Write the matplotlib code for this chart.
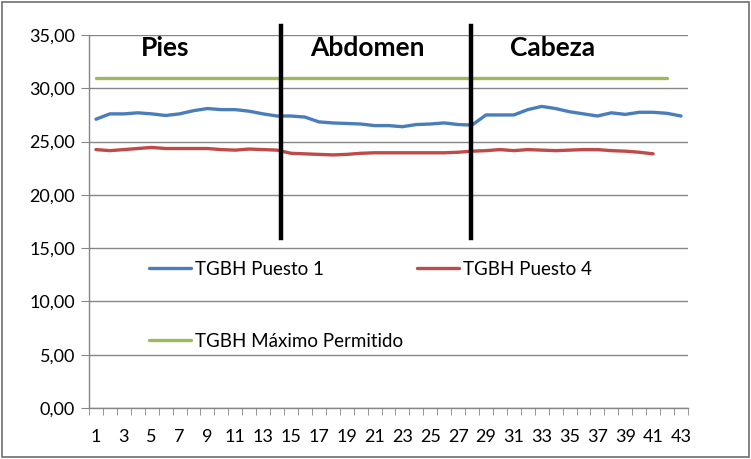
import numpy as np
import matplotlib
matplotlib.use('Agg')
import matplotlib.pyplot as plt
from matplotlib.ticker import FuncFormatter, FixedLocator
from matplotlib.patches import Rectangle

plt.rcParams['font.family'] = ['Lato', 'DejaVu Sans']

# ---- datos ----
puesto1 = [27.1, 27.6, 27.6, 27.7, 27.6, 27.45, 27.6, 27.9, 28.1, 28.0,
           28.0, 27.85, 27.6, 27.4, 27.4, 27.3, 26.85, 26.75, 26.7, 26.65,
           26.5, 26.5, 26.4, 26.6, 26.65, 26.75, 26.6, 26.55, 27.5, 27.5,
           27.5, 28.0, 28.3, 28.1, 27.8, 27.6, 27.4, 27.7, 27.55, 27.75,
           27.75, 27.65, 27.4]
puesto4 = [24.25, 24.15, 24.25, 24.35, 24.45, 24.35, 24.35, 24.35, 24.35, 24.25,
           24.2, 24.3, 24.25, 24.2, 23.9, 23.85, 23.8, 23.75, 23.8, 23.9,
           23.95, 23.95, 23.95, 23.95, 23.95, 23.95, 24.0, 24.1, 24.15, 24.25,
           24.15, 24.25, 24.2, 24.15, 24.2, 24.25, 24.25, 24.15, 24.1, 24.0,
           23.85]
maximo = [31.0] * 42

zonas = ['Pies', 'Abdomen', 'Cabeza']
zonas_x = [6.0, 20.5, 33.8]
separadores = [14.3, 27.9]

GRIS = '#868686'

fig = plt.figure(figsize=(7.51, 4.59), dpi=100)
ax = fig.add_axes([0.1185, 0.1111, 0.7976, 0.8126])

x1 = np.arange(1, len(puesto1) + 1)
x4 = np.arange(1, len(puesto4) + 1)
xm = np.arange(1, len(maximo) + 1)

l1, = ax.plot(x1, puesto1, color='#4A7EBB', lw=2.4, label='TGBH Puesto 1', solid_capstyle='round')
lm, = ax.plot(xm, maximo, color='#9BBB59', lw=2.4, label='TGBH Máximo Permitido', solid_capstyle='round')
l4, = ax.plot(x4, puesto4, color='#BE4B48', lw=2.4, label='TGBH Puesto 4', solid_capstyle='round')

# separadores de zona
for xs in separadores:
    ax.plot([xs, xs], [15.95, 35.8], color='black', lw=3.2, clip_on=False, zorder=5)

for nombre, xz in zip(zonas, zonas_x):
    ax.text(xz, 33.8, nombre, ha='center', va='center', fontsize=19,
            fontweight='bold', color='black')

ax.set_xlim(0.5, 43.5)
ax.set_ylim(0, 35)

ax.set_yticks(np.arange(0, 36, 5))
ax.yaxis.set_major_formatter(FuncFormatter(lambda v, p: f'{v:.2f}'.replace('.', ',')))
ax.yaxis.grid(True, color=GRIS, lw=1)
ax.set_axisbelow(True)

ax.xaxis.set_major_locator(FixedLocator(np.arange(1, 44, 2)))
ax.xaxis.set_minor_locator(FixedLocator(np.arange(0.5, 44, 1)))
ax.tick_params(axis='x', which='major', length=0, pad=15, labelsize=13, labelcolor='black')
ax.tick_params(axis='x', which='minor', length=5, color=GRIS, direction='out')
ax.tick_params(axis='y', length=6, color=GRIS, labelsize=13, pad=4, labelcolor='black')

for s in ['top', 'right']:
    ax.spines[s].set_visible(False)
for s in ['left', 'bottom']:
    ax.spines[s].set_color(GRIS)
    ax.spines[s].set_linewidth(1)

leg = ax.legend(handles=[l1, lm, l4], ncol=2, frameon=False, fontsize=13.5,
                loc='upper left', bbox_to_anchor=(0.072, 0.44),
                handlelength=2.25, handletextpad=0.2, columnspacing=0.75,
                labelspacing=2.94)

# borde exterior
fig.patches.append(Rectangle((0.003, 0.005), 0.994, 0.99, transform=fig.transFigure,
                             fill=False, edgecolor='#6e6e6e', lw=1.2))

fig.savefig('out.png', dpi=100)
